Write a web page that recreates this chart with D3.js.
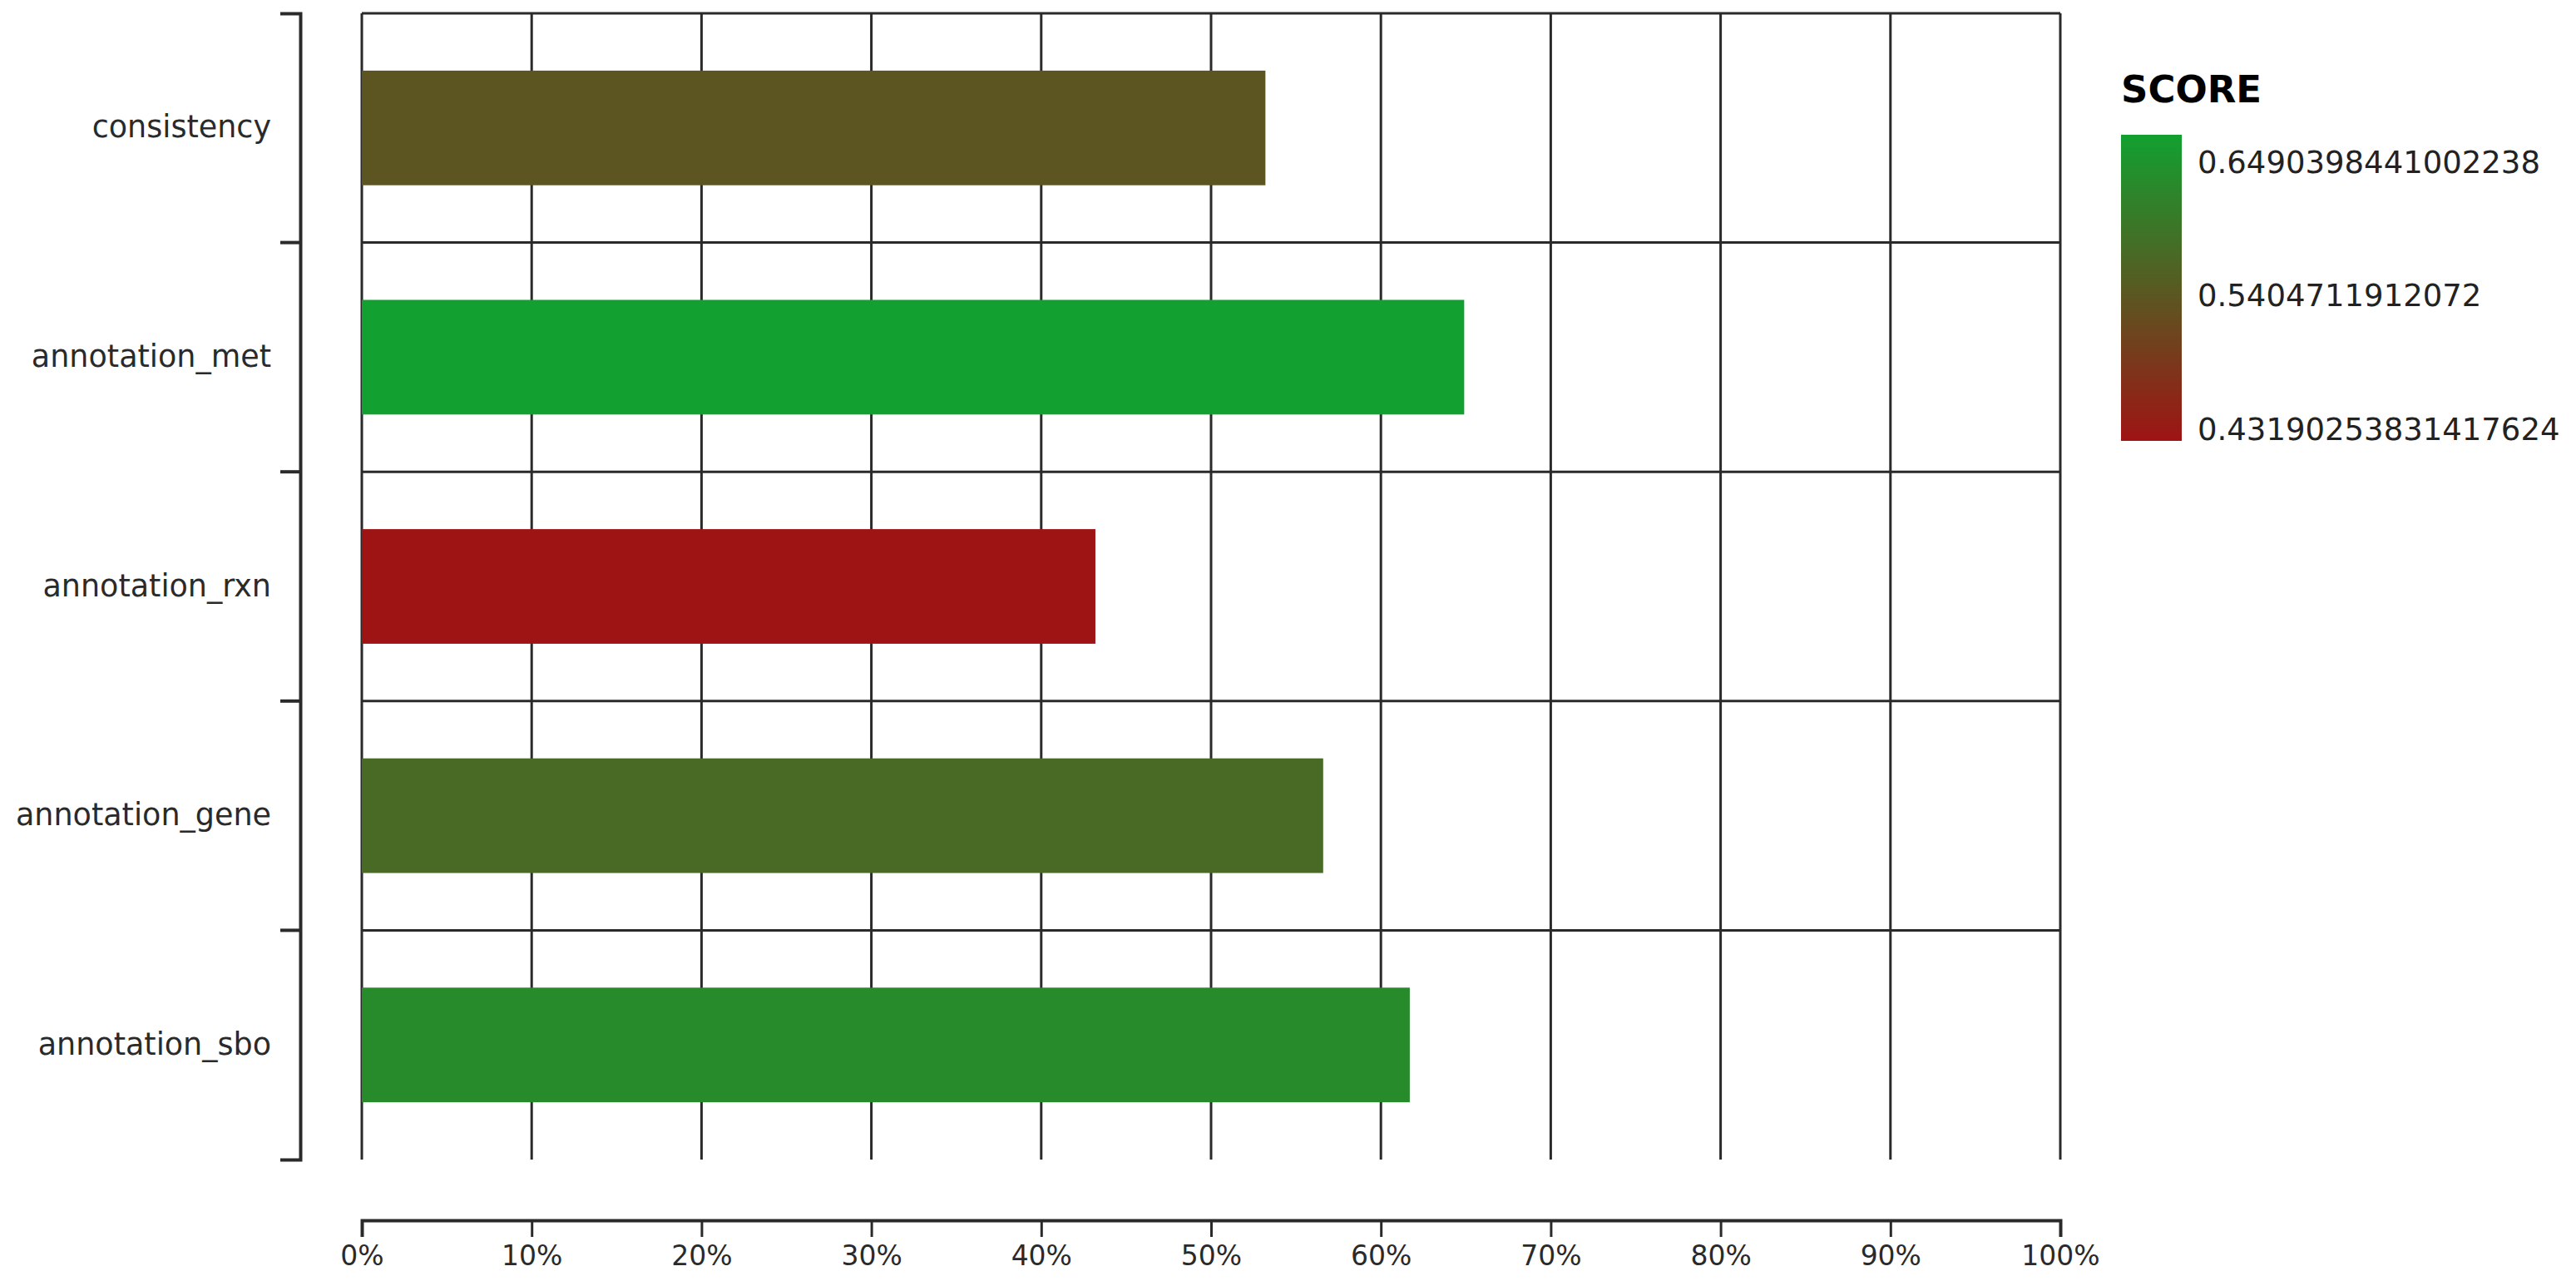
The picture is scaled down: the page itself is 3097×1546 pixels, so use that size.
<!DOCTYPE html>
<html><head><meta charset="utf-8">
<script src="https://cdn.jsdelivr.net/npm/d3@7"></script>
<style>
html,body{margin:0;padding:0;background:#fff;}
svg{display:block;font-family:"DejaVu Sans",sans-serif;}
</style></head>
<body>
<svg id="chart" width="3097" height="1546"></svg>
<script>
const categories = ["consistency","annotation_met","annotation_rxn","annotation_gene","annotation_sbo"];
const scores = [0.532, 0.6490398441002238, 0.43190253831417624, 0.566, 0.617];
const xTicks = [0,0.1,0.2,0.3,0.4,0.5,0.6,0.7,0.8,0.9,1.0];
const legendTitle = "SCORE";
const legendValues = [0.6490398441002238, 0.5404711912072, 0.43190253831417624];
const legendLabels = ["0.6490398441002238","0.5404711912072","0.43190253831417624"];

(function(){
const svg = d3.select("#chart");
const pLeft = 435, pRight = 2477, pTop = 16, pBottom = 1394;
const lineColor = "#2a2a2a";

const x = d3.scaleLinear().domain([0,1]).range([pLeft,pRight]);
const y = d3.scaleBand().domain(categories).range([pTop,pBottom]).paddingInner(0).paddingOuter(0);
const minS = d3.min(scores), maxS = d3.max(scores);
const color = d3.scaleLinear().domain([minS,maxS]).range(["#9e1414","#12a030"]).interpolate(d3.interpolateRgb);

// grid
const grid = svg.append("g");
grid.selectAll("line.v").data(xTicks).join("line").attr("class","v")
  .attr("x1", d=>x(d)).attr("x2", d=>x(d)).attr("y1", pTop).attr("y2", pBottom)
  .attr("stroke", lineColor).attr("stroke-width", 3);
grid.selectAll("line.h").data(categories).join("line").attr("class","h")
  .attr("x1", pLeft).attr("x2", pRight).attr("y1", d=>y(d)).attr("y2", d=>y(d))
  .attr("stroke", lineColor).attr("stroke-width", 3);

// bars
const bh = y.bandwidth()*0.5;
svg.append("g").selectAll("rect").data(categories).join("rect")
  .attr("x", x(0)).attr("y", d=>y(d)+ (y.bandwidth()-bh)/2)
  .attr("width", (d,i)=>x(scores[i])-x(0)).attr("height", bh)
  .attr("fill", (d,i)=>color(scores[i]));

// y axis bracket
const yAxisX = 361;
const yAx = svg.append("g").attr("transform",`translate(${yAxisX},0)`)
  .call(d3.axisLeft(y).tickSize(0).tickSizeOuter(24).tickPadding(35));
yAx.select(".domain").attr("stroke", lineColor).attr("stroke-width", 4);
yAx.selectAll("text").attr("font-size", 36.5).attr("fill","#2a2a2a").attr("font-family","DejaVu Sans");
yAx.selectAll("line.bnd").data(categories.slice(1)).join("line").attr("class","bnd")
  .attr("x1",-24).attr("x2",0).attr("y1", d=>y(d)).attr("y2", d=>y(d))
  .attr("stroke", lineColor).attr("stroke-width", 4);

// x axis
const xAx = svg.append("g").attr("transform","translate(0,1467)")
  .call(d3.axisBottom(x).tickValues(xTicks).tickFormat(d3.format(".0%")).tickSize(20).tickPadding(11));
xAx.select(".domain").attr("stroke", lineColor).attr("stroke-width", 4);
xAx.selectAll(".tick line").attr("stroke", lineColor).attr("stroke-width", 3);
xAx.selectAll("text").attr("font-size", 33).attr("fill","#2a2a2a").attr("font-family","DejaVu Sans");

// legend
const lg = svg.append("g");
const defs = svg.append("defs");
const grad = defs.append("linearGradient").attr("id","lgrad").attr("x1",0).attr("x2",0).attr("y1",1).attr("y2",0);
grad.append("stop").attr("offset","0%").attr("stop-color", color(minS));
grad.append("stop").attr("offset","100%").attr("stop-color", color(maxS));
lg.append("text").attr("x",2550).attr("y",123).attr("font-size",45).attr("font-weight","bold")
  .attr("fill","#000").text(legendTitle);
lg.append("rect").attr("x",2550).attr("y",162).attr("width",73).attr("height",368).attr("fill","url(#lgrad)");
const ly = d3.scaleLinear().domain([minS,maxS]).range([516,195]);
lg.selectAll("text.lab").data(legendValues).join("text").attr("class","lab")
  .attr("x",2642).attr("y", d=>ly(d)).attr("dy","0.35em")
  .attr("font-size",37).attr("fill","#222").text((d,i)=>legendLabels[i]);
})();
</script>
</body></html>
